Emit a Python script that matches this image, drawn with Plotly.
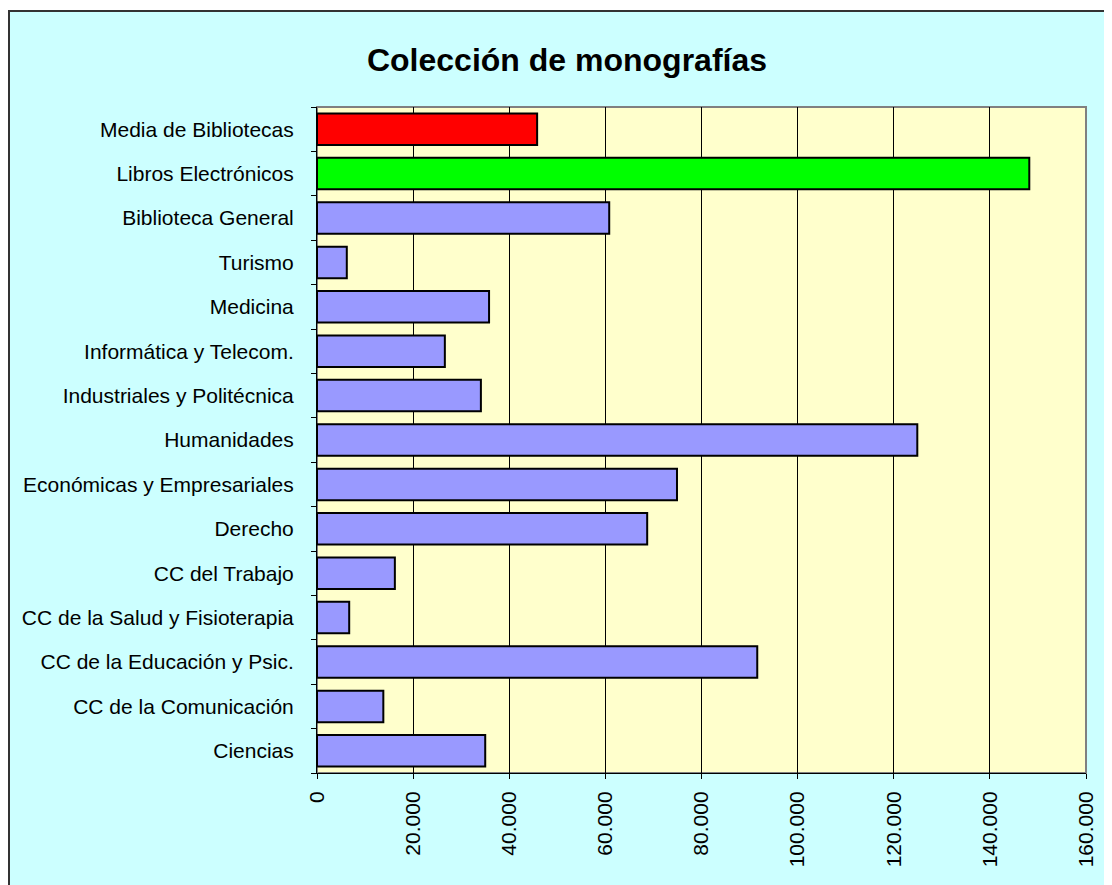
import plotly.graph_objects as go

# Data (top to bottom as shown)
categories = [
    "Media de Bibliotecas",
    "Libros Electrónicos",
    "Biblioteca General",
    "Turismo",
    "Medicina",
    "Informática y Telecom.",
    "Industriales y Politécnica",
    "Humanidades",
    "Económicas y Empresariales",
    "Derecho",
    "CC del Trabajo",
    "CC de la Salud y Fisioterapia",
    "CC de la Educación y Psic.",
    "CC de la Comunicación",
    "Ciencias",
]
values = [45800, 148200, 60800, 6200, 35800, 26600, 34100, 124900,
          74900, 68700, 16200, 6700, 91600, 13800, 35000]
bar_colors = ["#FF0000", "#00FF00"] + ["#9999FF"] * 13
x_ticks = [0, 20000, 40000, 60000, 80000, 100000, 120000, 140000, 160000]

n = len(categories)
positions = list(range(n))

font_family = "Liberation Sans, Arial, sans-serif"

W, H = 1104, 877
L, R, T, B = 309, 26, 99, 112
pw = W - L - R
ph = H - T - B

fig = go.Figure()
fig.add_trace(go.Bar(
    x=values,
    y=positions,
    orientation="h",
    marker=dict(color=bar_colors, line=dict(color="black", width=2)),
    width=0.71,
    hoverinfo="x",
))

fig.update_layout(
    width=W,
    height=H,
    margin=dict(l=L, r=R, t=T, b=B),
    paper_bgcolor="white",
    plot_bgcolor="rgba(0,0,0,0)",
    separators=",.",
    showlegend=False,
    title=dict(
        text="<b>Colección de monografías</b>",
        x=559 / W, xref="container", xanchor="center",
        y=1 - 52 / H, yref="container", yanchor="middle",
        font=dict(family=font_family, size=32, color="black"),
    ),
    font=dict(family=font_family, size=21, color="black"),
    xaxis=dict(
        range=[0, 160000],
        tickvals=x_ticks,
        tickformat=",.0f",
        tickangle=-90,
        ticks="outside",
        ticklen=5,
        tickcolor="black",
        ticklabelstandoff=4,
        showgrid=True,
        gridcolor="black",
        gridwidth=1,
        showline=True,
        linecolor="black",
        linewidth=1,
        zeroline=False,
        tickfont=dict(family=font_family, size=21, color="black"),
    ),
    yaxis=dict(
        range=[n - 0.5, -0.5],
        tickvals=positions,
        ticktext=categories,
        ticks="",
        showgrid=False,
        zeroline=False,
        showline=True,
        linecolor="black",
        linewidth=1,
        ticklabelstandoff=18,
        minor=dict(tickmode="linear", tick0=0.5, dtick=1, ticks="outside",
                   ticklen=5, tickcolor="black", showgrid=False),
        tickfont=dict(family=font_family, size=21, color="black"),
    ),
    shapes=[
        dict(type="rect", xref="paper", yref="paper",
             x0=(1 - L) / pw, x1=1.2, y0=-0.4, y1=(ph + T - 3) / ph,
             fillcolor="#CCFFFF", line=dict(color="#333333", width=2),
             layer="below"),
        dict(type="rect", xref="paper", yref="paper",
             x0=0, x1=1, y0=0, y1=1,
             fillcolor="#FFFFCC", line=dict(color="#808080", width=2),
             layer="below"),
    ],
)

fig.write_html("out.html")
